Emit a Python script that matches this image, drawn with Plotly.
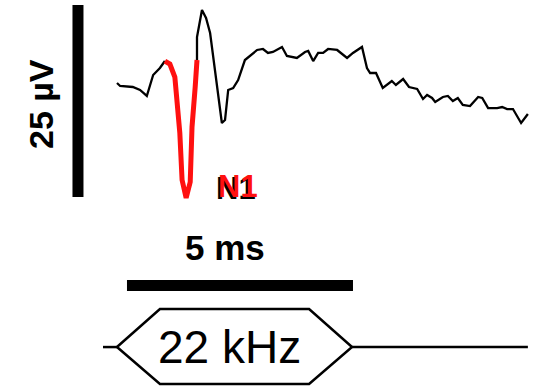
import plotly.graph_objects as go

# ---- data (time in ms, voltage in µV) ----
pre_t = [0.00, 0.07, 0.35, 0.51, 0.66, 0.73, 0.80, 0.95, 1.06]
pre_v = [0.00, -0.39, -0.52, -0.91, -1.69, -0.39, 1.04, 1.95, 2.86]

n1_t = [1.06, 1.17, 1.28, 1.39, 1.44, 1.53, 1.62, 1.66, 1.73, 1.77]
n1_v = [2.86, 2.47, 0.78, -6.51, -12.63, -14.97, -12.89, -5.73, -0.52, 2.99]

post_t = [1.77, 1.77, 1.88, 1.97, 2.06, 2.12, 2.23, 2.32, 2.39, 2.46, 2.57, 2.68,
          2.83, 2.94, 3.10, 3.23, 3.34, 3.45, 3.65, 3.76, 3.87, 3.98, 4.16, 4.23,
          4.34, 4.45, 4.56, 4.67, 4.87, 5.09, 5.22, 5.42, 5.53, 5.60, 5.73, 5.88,
          6.08, 6.17, 6.33, 6.46, 6.64, 6.77, 6.86, 6.97, 7.04, 7.21, 7.32, 7.43,
          7.54, 7.65, 7.81, 7.99, 8.08, 8.21, 8.41, 8.52, 8.63, 8.76, 8.94, 9.03, 9.09]
post_v = [2.99, 5.99, 9.51, 8.46, 6.51, 3.91, -0.91, -5.21, -4.82, -0.91, -0.65, 0.39,
          2.99, 3.52, 4.30, 4.43, 3.91, 4.04, 4.69, 3.52, 3.39, 3.26, 4.04, 4.17,
          2.86, 3.91, 3.91, 4.43, 4.30, 3.26, 3.91, 4.69, 1.95, 1.30, 1.30, -0.65,
          0.26, -0.26, 0.52, -0.52, -0.78, -2.08, -1.56, -1.95, -2.47, -1.82, -1.69,
          -2.34, -1.95, -2.86, -3.00, -1.82, -1.95, -3.26, -3.26, -3.13, -3.39, -3.39,
          -5.21, -4.43, -4.04]

# scale bars
bar_uv = 25      # µV
bar_ms = 5       # ms
# stimulus
stim_on = 0.0
stim_off = 5.2
stim_ramp = 0.95
stim_label = "22 kHz"

FONT = "Liberation Sans, Arial, sans-serif"

fig = go.Figure()
fig.add_trace(go.Scatter(x=pre_t, y=pre_v, mode="lines",
                         line=dict(color="black", width=2.3), hoverinfo="skip"))
fig.add_trace(go.Scatter(x=post_t, y=post_v, mode="lines",
                         line=dict(color="black", width=2.3), hoverinfo="skip"))
fig.add_trace(go.Scatter(x=n1_t, y=n1_v, mode="lines",
                         line=dict(color="#ff1010", width=5), hoverinfo="skip"))

# vertical scale bar (25 µV)
vb_x = -0.863
vb_y0 = -14.84
fig.add_shape(type="line", xref="x", yref="y", x0=vb_x, x1=vb_x,
              y0=vb_y0, y1=vb_y0 + bar_uv, line=dict(color="black", width=11))
# horizontal scale bar (5 ms)
hb_x0 = 0.221
hb_y = -26.37
fig.add_shape(type="line", xref="x", yref="y", x0=hb_x0, x1=hb_x0 + bar_ms,
              y0=hb_y, y1=hb_y, line=dict(color="black", width=11))

# stimulus hexagon
mid = -34.38
top = -29.43
bot = -39.19
hx = [-0.31, stim_on, stim_on + stim_ramp, stim_off - stim_ramp, stim_off, 9.09]
fig.add_trace(go.Scatter(x=[hx[0], hx[1]], y=[mid, mid], mode="lines",
                         line=dict(color="black", width=2.5), hoverinfo="skip"))
fig.add_trace(go.Scatter(x=[hx[4], hx[5]], y=[mid, mid], mode="lines",
                         line=dict(color="black", width=2.5), hoverinfo="skip"))
fig.add_trace(go.Scatter(x=[hx[1], hx[2], hx[3], hx[4], hx[3], hx[2], hx[1]],
                         y=[mid, top, top, mid, bot, bot, mid], mode="lines",
                         line=dict(color="black", width=2.5), hoverinfo="skip"))

anns = [
    dict(x=2.39, y=-21.4, text="<b>5 ms</b>", font=dict(size=35, color="black", family=FONT)),
    dict(x=-1.68, y=-2.73, text="<b>25 µV</b>", textangle=-90,
         font=dict(size=34, color="black", family=FONT)),
    dict(x=2.67, y=-13.41, text="<b>N1</b>",
         font=dict(size=31, color="#ff1010", family=FONT, shadow="-2px 1.5px 0px black")),
    dict(x=2.5, y=-34.38, text=stim_label, font=dict(size=46, color="black", family=FONT)),
]
for a in anns:
    fig.add_annotation(xref="x", yref="y", showarrow=False,
                       xanchor="center", yanchor="middle", **a)

fig.update_layout(
    width=548, height=389,
    margin=dict(l=0, r=0, t=0, b=0),
    paper_bgcolor="white", plot_bgcolor="white",
    showlegend=False,
    xaxis=dict(range=[-2.588, 9.535], visible=False, fixedrange=True),
    yaxis=dict(range=[-39.84, 10.807], visible=False, fixedrange=True),
)
fig.write_html("out.html", config={"displayModeBar": False})
